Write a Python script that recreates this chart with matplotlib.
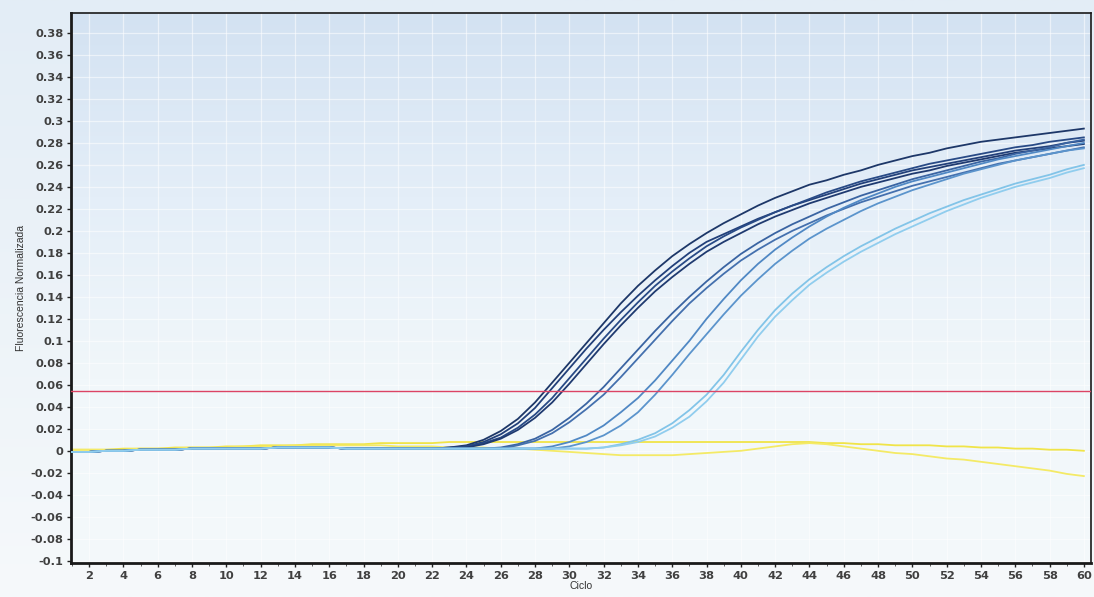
import numpy as np
import matplotlib
matplotlib.use("Agg")
import matplotlib.pyplot as plt
from matplotlib.colors import LinearSegmentedColormap
from matplotlib.ticker import FixedLocator, FuncFormatter, MultipleLocator

plt.rcParams["font.family"] = ["Liberation Sans", "DejaVu Sans"]

# cycles 1..19 are flat for every amplified sample
early_cycles = list(range(1, 20))
baseline = [-0.001, -0.001, 0.000, 0.000, 0.001, 0.001, 0.001, 0.002, 0.002, 0.002,
            0.002, 0.002, 0.003, 0.003, 0.003, 0.003, 0.002, 0.002, 0.002]

# cycles 20..60 for the amplification curves
late_cycles = list(range(20, 61))

a1 = [0.002, 0.002, 0.002, 0.003, 0.005, 0.010, 0.018, 0.029, 0.044, 0.062,
      0.080, 0.098, 0.116, 0.134, 0.150, 0.164, 0.177, 0.188, 0.198, 0.207,
      0.215, 0.223, 0.230, 0.236, 0.242, 0.246, 0.251, 0.255, 0.260, 0.264,
      0.268, 0.271, 0.275, 0.278, 0.281, 0.283, 0.285, 0.287, 0.289, 0.291, 0.293]
a2 = [0.002, 0.002, 0.002, 0.003, 0.004, 0.008, 0.015, 0.025, 0.039, 0.057,
      0.075, 0.093, 0.110, 0.126, 0.141, 0.155, 0.168, 0.180, 0.190, 0.197,
      0.204, 0.211, 0.217, 0.223, 0.228, 0.233, 0.238, 0.243, 0.247, 0.251,
      0.255, 0.258, 0.261, 0.264, 0.267, 0.270, 0.273, 0.275, 0.277, 0.280, 0.282]
a3 = [0.002, 0.002, 0.002, 0.002, 0.004, 0.007, 0.012, 0.021, 0.033, 0.048,
      0.066, 0.084, 0.102, 0.119, 0.135, 0.150, 0.163, 0.175, 0.186, 0.195,
      0.203, 0.210, 0.217, 0.223, 0.229, 0.235, 0.240, 0.245, 0.249, 0.253,
      0.257, 0.261, 0.264, 0.267, 0.270, 0.273, 0.276, 0.278, 0.281, 0.283, 0.285]
a4 = [0.002, 0.002, 0.002, 0.002, 0.003, 0.006, 0.011, 0.019, 0.030, 0.044,
      0.061, 0.079, 0.097, 0.114, 0.130, 0.145, 0.158, 0.170, 0.181, 0.190,
      0.198, 0.206, 0.213, 0.219, 0.225, 0.230, 0.235, 0.240, 0.244, 0.248,
      0.252, 0.255, 0.259, 0.262, 0.265, 0.268, 0.271, 0.273, 0.275, 0.277, 0.279]
b1 = [0.002, 0.002, 0.002, 0.002, 0.002, 0.002, 0.003, 0.006, 0.011, 0.019,
      0.030, 0.043, 0.058, 0.075, 0.092, 0.109, 0.125, 0.140, 0.154, 0.167,
      0.179, 0.189, 0.198, 0.206, 0.213, 0.220, 0.226, 0.232, 0.237, 0.242,
      0.247, 0.251, 0.255, 0.259, 0.263, 0.266, 0.270, 0.273, 0.276, 0.280, 0.283]
b2 = [0.002, 0.002, 0.002, 0.002, 0.002, 0.002, 0.002, 0.005, 0.009, 0.016,
      0.026, 0.038, 0.051, 0.067, 0.084, 0.101, 0.118, 0.134, 0.148, 0.161,
      0.173, 0.183, 0.192, 0.200, 0.207, 0.214, 0.220, 0.226, 0.231, 0.236,
      0.241, 0.245, 0.249, 0.253, 0.257, 0.261, 0.264, 0.267, 0.270, 0.273, 0.276]
c1 = [0.002, 0.002, 0.002, 0.002, 0.002, 0.002, 0.002, 0.002, 0.002, 0.004,
      0.008, 0.014, 0.023, 0.035, 0.048, 0.064, 0.082, 0.100, 0.120, 0.138,
      0.155, 0.170, 0.183, 0.194, 0.204, 0.213, 0.221, 0.228, 0.234, 0.240,
      0.245, 0.249, 0.253, 0.257, 0.261, 0.265, 0.268, 0.271, 0.274, 0.277, 0.280]
c2 = [0.002, 0.002, 0.002, 0.002, 0.002, 0.002, 0.002, 0.002, 0.002, 0.002,
      0.004, 0.008, 0.014, 0.023, 0.035, 0.051, 0.069, 0.088, 0.106, 0.124,
      0.141, 0.156, 0.170, 0.182, 0.193, 0.202, 0.210, 0.218, 0.225, 0.231,
      0.237, 0.242, 0.247, 0.252, 0.256, 0.260, 0.264, 0.267, 0.270, 0.273, 0.275]
d1 = [0.002, 0.002, 0.002, 0.002, 0.002, 0.002, 0.002, 0.002, 0.002, 0.002,
      0.002, 0.002, 0.003, 0.006, 0.010, 0.016, 0.025, 0.037, 0.051, 0.069,
      0.090, 0.110, 0.128, 0.143, 0.156, 0.167, 0.177, 0.186, 0.194, 0.202,
      0.209, 0.216, 0.222, 0.228, 0.233, 0.238, 0.243, 0.247, 0.251, 0.256, 0.260]
d2 = [0.002, 0.002, 0.002, 0.002, 0.002, 0.002, 0.002, 0.002, 0.002, 0.002,
      0.002, 0.002, 0.003, 0.005, 0.008, 0.013, 0.021, 0.031, 0.045, 0.062,
      0.083, 0.104, 0.122, 0.137, 0.151, 0.162, 0.172, 0.181, 0.189, 0.197,
      0.204, 0.211, 0.218, 0.224, 0.230, 0.235, 0.240, 0.244, 0.248, 0.253, 0.257]

amplified = [a1, a2, a3, a4, b1, b2, c1, c2, d1, d2]
amp_colors = ["#1d3768", "#22407a", "#284a86", "#1f3a70",
              "#3a64a2", "#4470ae",
              "#5088c4", "#5b94cc",
              "#82c4e8", "#90cdee"]

# negative controls, cycles 1..60
all_cycles = list(range(1, 61))
neg1 = [0.001, 0.001, 0.001, 0.002, 0.002, 0.002, 0.003, 0.003, 0.003, 0.004,
        0.004, 0.005, 0.005, 0.005, 0.006, 0.006, 0.006, 0.006, 0.007, 0.007,
        0.007, 0.007, 0.008, 0.008, 0.008, 0.008, 0.008, 0.008, 0.008, 0.008,
        0.008, 0.008, 0.008, 0.008, 0.008, 0.008, 0.008, 0.008, 0.008, 0.008,
        0.008, 0.008, 0.008, 0.008, 0.007, 0.007, 0.006, 0.006, 0.005, 0.005,
        0.005, 0.004, 0.004, 0.003, 0.003, 0.002, 0.002, 0.001, 0.001, 0.000]
neg2 = [0.001, 0.001, 0.001, 0.001, 0.002, 0.002, 0.002, 0.003, 0.003, 0.003,
        0.004, 0.004, 0.004, 0.005, 0.005, 0.005, 0.005, 0.005, 0.005, 0.004,
        0.004, 0.004, 0.003, 0.003, 0.003, 0.002, 0.002, 0.001, 0.000, -0.001,
        -0.002, -0.003, -0.004, -0.004, -0.004, -0.004, -0.003, -0.002, -0.001, 0.000,
        0.002, 0.004, 0.006, 0.007, 0.006, 0.004, 0.002, 0.000, -0.002, -0.003,
        -0.005, -0.007, -0.008, -0.010, -0.012, -0.014, -0.016, -0.018, -0.021, -0.023]
neg_colors = ["#f0e448", "#f4ea66"]

threshold = 0.054

y_ticks = [round(-0.1 + 0.02 * i, 2) for i in range(25)]
x_ticks = list(range(2, 61, 2))

fig = plt.figure(figsize=(10.94, 5.97), dpi=100)

# pale background behind everything
bg = fig.add_axes([0, 0, 1, 1], zorder=-2)
bg.imshow(np.linspace(0, 1, 256)[:, None],
          cmap=LinearSegmentedColormap.from_list("bg", ["#e3edf6", "#f6f9fb"]),
          aspect="auto", extent=[0, 1, 0, 1])
bg.axis("off")

ax = fig.add_axes([0.065, 0.057, 0.932, 0.921])
ax.set_facecolor("none")
ax.set_xlim(0.95, 60.4)
ax.set_ylim(-0.102, 0.398)

ax.imshow(np.linspace(0, 1, 256)[:, None],
          cmap=LinearSegmentedColormap.from_list("plot", ["#d3e2f2", "#e4eef8", "#f1f7fa", "#f4f9fb"]),
          aspect="auto", extent=[0.95, 60.4, -0.102, 0.398], zorder=0)

ax.grid(True, color="white", linewidth=0.9, alpha=0.55, zorder=1)

for ys, col in zip(amplified, amp_colors):
    ax.plot(early_cycles + late_cycles, baseline + ys, color=col, linewidth=1.3, zorder=3)
for ys, col in zip([neg1, neg2], neg_colors):
    ax.plot(all_cycles, ys, color=col, linewidth=1.3, zorder=2)

ax.axhline(threshold, color="#dc4464", linewidth=1.0, zorder=4)

ax.yaxis.set_major_locator(FixedLocator(y_ticks))
ax.yaxis.set_major_formatter(FuncFormatter(lambda v, p: f"{v:g}"))
ax.xaxis.set_major_locator(FixedLocator(x_ticks))
ax.xaxis.set_minor_locator(MultipleLocator(1))
ax.tick_params(axis="both", which="major", length=3, width=1, pad=2.5,
               colors="#222222", labelcolor="#404040")
ax.tick_params(axis="x", which="minor", length=2, color="#444444")
for lbl in ax.get_xticklabels() + ax.get_yticklabels():
    lbl.set_fontfamily("DejaVu Sans")
    lbl.set_fontweight("bold")
    lbl.set_fontsize(8.2)

ax.spines["left"].set_linewidth(2.0)
ax.spines["bottom"].set_linewidth(2.0)
ax.spines["top"].set_linewidth(1.2)
ax.spines["right"].set_linewidth(1.2)
for s in ax.spines.values():
    s.set_color("#1a1a1a")

ax.set_xlabel("Ciclo", fontsize=7.5, labelpad=0.5, color="#333333")
ax.set_ylabel("Fluorescencia Normalizada", fontsize=7.5, labelpad=3, color="#333333")

fig.savefig("out.png", dpi=100)
